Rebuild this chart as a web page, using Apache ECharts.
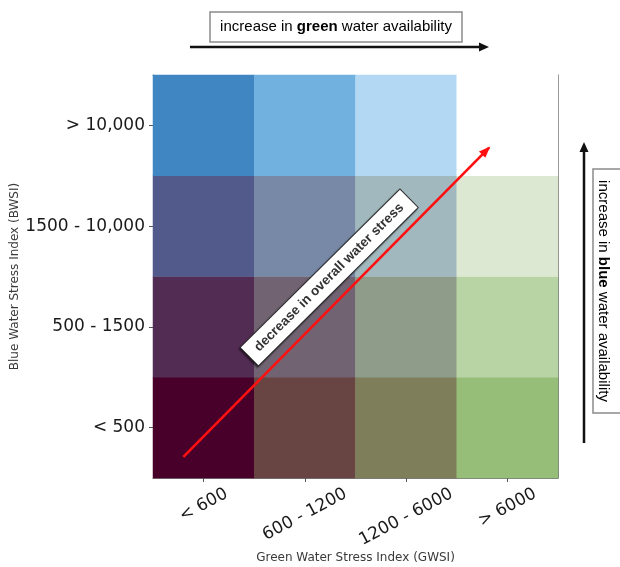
<!DOCTYPE html>
<html><head><meta charset="utf-8">
<script src="https://cdn.jsdelivr.net/npm/echarts@6/dist/echarts.min.js"></script>
<style>html,body{margin:0;padding:0;background:#fff}#c{width:620px;height:567px}</style>
</head><body><div id="c"></div>
<script>
// ---- data ----
const gwsiCategories = ['< 600', '600 - 1200', '1200 - 6000', '> 6000'];
const bwsiCategories = ['< 500', '500 - 1500', '1500 - 10,000', '> 10,000'];
// bivariate class per cell (rows: BWSI bottom->top, cols: GWSI left->right)
const cellClass = [
  [1, 2, 3, 4],
  [5, 6, 7, 8],
  [9, 10, 11, 12],
  [13, 14, 15, 16]
];
const cellColors = [
  ['#48002A', '#684543', '#7E7E5B', '#97BE78'],
  ['#532C53', '#716372', '#909C8A', '#B8D4A5'],
  ['#525A8C', '#7789A6', '#A0B8BE', '#DCE8D2'],
  ['#3F86C2', '#71B1DF', '#B2D8F4', '#FFFFFF']
];
const stressArrow = [[0.30, 0.21], [3.32, 3.28]];
const stressLabelAt = [1.74, 1.99];
const stressLabel = 'decrease in overall water stress';

// ---- chart ----
const chart = echarts.init(document.getElementById('c'), null, {renderer: 'canvas'});
const tickFont = 'DejaVu Sans';
const tickSize = 17;
const rot = 28;
const th = rot * Math.PI / 180;

// measure label widths to emulate centred rotated labels whose bbox top is aligned
const ctx = document.createElement('canvas').getContext('2d');
ctx.font = tickSize + 'px "' + tickFont + '"';
const widths = gwsiCategories.map(s => ctx.measureText(s).width);
const minW = Math.min.apply(null, widths);
const rich = {};
gwsiCategories.forEach((s, i) => {
  const D = (widths[i] - minW) * Math.sin(th) / 2;
  rich['l' + i] = {
    fontFamily: tickFont, fontSize: tickSize, color: '#1a1a1a',
    padding: [2 * D * Math.cos(th), 2 * D * Math.sin(th), 0, 0]
  };
});

const heatData = [];
for (let j = 0; j < bwsiCategories.length; j++) {
  for (let i = 0; i < gwsiCategories.length; i++) {
    heatData.push({value: [i, j, cellClass[j][i]], itemStyle: {color: cellColors[j][i]}});
  }
}

const grid = {left: 153, top: 75, width: 405, height: 403, containLabel: false, outerBoundsMode: 'none'};

chart.setOption({
  animation: false,
  backgroundColor: '#ffffff',
  grid: grid,
  xAxis: [{
    type: 'category', data: gwsiCategories, position: 'bottom',
    axisLine: {show: true, lineStyle: {color: '#7a7a7a', width: 1}},
    axisTick: {show: true, alignWithLabel: true, length: 4, lineStyle: {color: '#555'}},
    axisLabel: {
      interval: 0, rotate: rot, align: 'center', verticalAlign: 'middle', margin: 27,
      formatter: (v, i) => '{l' + i + '|' + v + '}', rich: rich
    },
    splitLine: {show: false},
    name: 'Green Water Stress Index (GWSI)', nameLocation: 'middle', nameGap: 74, nameMoveOverlap: false,
    nameTextStyle: {fontFamily: tickFont, fontSize: 12, color: '#3a3a3a'}
  }, {
    type: 'value', min: 0, max: 4, position: 'top',
    axisLine: {show: true, onZero: false, lineStyle: {color: '#7a7a7a', width: 1}},
    axisTick: {show: false}, axisLabel: {show: false}, splitLine: {show: false}
  }],
  yAxis: [{
    type: 'category', data: bwsiCategories, position: 'left',
    axisLine: {show: true, lineStyle: {color: '#7a7a7a', width: 1}},
    axisTick: {show: true, alignWithLabel: true, length: 4, lineStyle: {color: '#555'}},
    axisLabel: {interval: 0, margin: 8, fontFamily: tickFont, fontSize: tickSize, color: '#1a1a1a'},
    splitLine: {show: false},
    name: 'Blue Water Stress Index (BWSI)', nameLocation: 'middle', nameGap: 132, nameMoveOverlap: false,
    nameTextStyle: {fontFamily: tickFont, fontSize: 12, color: '#3a3a3a'}
  }, {
    type: 'value', min: 0, max: 4, position: 'right',
    axisLine: {show: true, onZero: false, lineStyle: {color: '#7a7a7a', width: 1}},
    axisTick: {show: false}, axisLabel: {show: false}, splitLine: {show: false}
  }],
  series: [{
    type: 'heatmap', xAxisIndex: 0, yAxisIndex: 0, data: heatData,
    itemStyle: {borderWidth: 0}, emphasis: {disabled: true}, z: 1
  }, {
    type: 'line', xAxisIndex: 1, yAxisIndex: 1, data: [], z: 5,
    markLine: {
      silent: true, animation: false,
      symbol: ['none', 'none'],
      label: {show: false},
      lineStyle: {color: '#ff1010', width: 2.6, type: 'solid'},
      data: [[{coord: stressArrow[0]}, {coord: stressArrow[1]}]]
    }
  }]
});

const lp = chart.convertToPixel({xAxisIndex: 1, yAxisIndex: 1}, stressLabelAt);
const p0 = chart.convertToPixel({xAxisIndex: 1, yAxisIndex: 1}, stressArrow[0]);
const p1 = chart.convertToPixel({xAxisIndex: 1, yAxisIndex: 1}, stressArrow[1]);
const ang = Math.atan2(p1[1] - p0[1], p1[0] - p0[0]);
const hl = 10, hw = 4.5;
const ux = Math.cos(ang), uy = Math.sin(ang);
const bx = p1[0] - ux * hl, by = p1[1] - uy * hl;
const head = [[p1[0] + ux * 1.5, p1[1] + uy * 1.5], [bx - uy * hw, by + ux * hw], [bx + uy * hw, by - ux * hw]];
const labelAngle = -Math.atan2(p1[1] - p0[1], p1[0] - p0[0]) - 0.01;

const annFont = '"Liberation Sans", Arial, sans-serif';

chart.setOption({
  graphic: [
    {type: 'polygon', shape: {points: head}, style: {fill: '#ff1010'}, z: 6},

    {type: 'rect', shape: {x: 210, y: 12, width: 252, height: 30},
     style: {fill: '#fff', stroke: '#8a8a8a', lineWidth: 1.5}, z: 10},
    {type: 'text', x: 336, y: 27, z: 11,
     style: {text: '{n|increase in }{b|green}{n| water availability}', align: 'center', verticalAlign: 'middle',
       rich: {n: {fontFamily: annFont, fontSize: 15, color: '#555'},
              b: {fontFamily: annFont, fontSize: 15, fontWeight: 'bold', color: '#222'}}}},
    {type: 'line', shape: {x1: 190, y1: 47, x2: 481, y2: 47}, style: {stroke: '#111', lineWidth: 2.5}, z: 10},
    {type: 'polygon', shape: {points: [[479, 42.5], [489, 47], [479, 51.5]]}, style: {fill: '#111'}, z: 10},

    {type: 'line', shape: {x1: 584, y1: 443, x2: 584, y2: 150}, style: {stroke: '#111', lineWidth: 2.5}, z: 10},
    {type: 'polygon', shape: {points: [[579.5, 152], [584, 142], [588.5, 152]]}, style: {fill: '#111'}, z: 10},
    {type: 'rect', shape: {x: 593, y: 169, width: 30, height: 244},
     style: {fill: '#fff', stroke: '#8a8a8a', lineWidth: 1.5}, z: 10},
    {type: 'text', x: 603, y: 291, rotation: -Math.PI / 2, z: 11,
     style: {text: '{n|increase in }{b|blue}{n| water availability}', align: 'center', verticalAlign: 'middle',
       rich: {n: {fontFamily: annFont, fontSize: 15, color: '#555'},
              b: {fontFamily: annFont, fontSize: 15, fontWeight: 'bold', color: '#222'}}}},

    {type: 'text', x: lp[0], y: lp[1], rotation: labelAngle, z: 20,
     style: {text: stressLabel, align: 'center', verticalAlign: 'middle',
       fontFamily: annFont, fontSize: 13.5, fontWeight: 'bold', fill: '#333', lineHeight: 16,
       backgroundColor: '#fff', borderColor: '#333', borderWidth: 1, padding: [4.5, 10],
       shadowColor: 'rgba(0,0,0,0.45)', shadowBlur: 2, shadowOffsetX: -1, shadowOffsetY: 1.5}}
  ]
});
</script>
</body></html>
